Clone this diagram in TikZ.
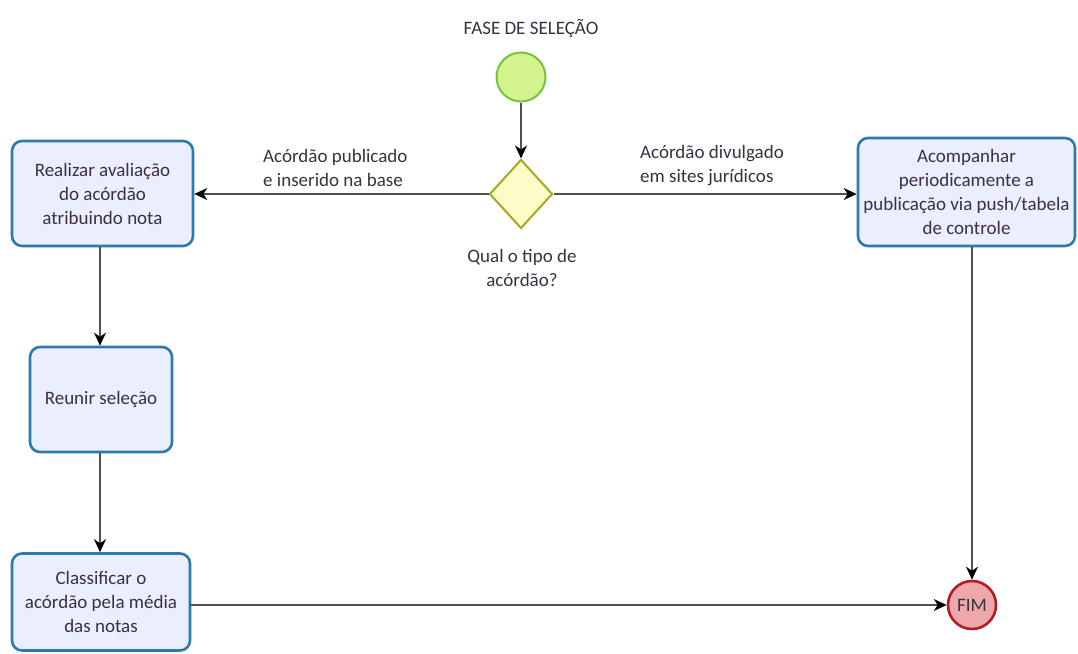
\documentclass[tikz,border=0pt]{standalone}
\usepackage{fontspec}
\setmainfont{Carlito}
\usetikzlibrary{shapes.geometric,arrows.meta}
\definecolor{taskfill}{HTML}{EBEEFC}
\definecolor{taskline}{HTML}{2C7BB0}
\definecolor{startfill}{HTML}{D3F38C}
\definecolor{startline}{HTML}{78C040}
\definecolor{gatefill}{HTML}{FCFCC8}
\definecolor{gateline}{HTML}{A8A820}
\definecolor{endfill}{HTML}{EEA8AC}
\definecolor{endline}{HTML}{B01E22}
\definecolor{flowline}{HTML}{505050}
\definecolor{txt}{HTML}{3A3040}
\begin{document}
\begin{tikzpicture}[x=1pt,y=-1pt,
  every node/.style={font=\fontsize{19}{24}\selectfont, text=txt},
  task/.style={draw=taskline, fill=taskfill, line width=2.6pt, rounded corners=10pt,
    align=center, inner sep=0pt},
  flow/.style={draw=flowline, line width=1.6pt,
    -{Stealth[length=13pt,width=12pt,inset=4pt,color=black]}},
  lbl/.style={align=left, inner sep=0pt}]
\useasboundingbox (0,0) rectangle (1078,653);

% start and end events
\node[circle, draw=startline, fill=startfill, line width=2pt, minimum size=49pt, inner sep=0pt] (start) at (521,77) {};
\node[inner sep=0pt] (title) at (531,29) {FASE DE SELEÇÃO};
\node[circle, draw=endline, fill=endfill, line width=2.6pt, minimum size=48pt, inner sep=0pt] (fim) at (972,605) {FIM};

% gateway
\node[diamond, draw=gateline, fill=gatefill, line width=2pt, minimum width=63pt, minimum height=69pt, inner sep=0pt, aspect=0.9] (gate) at (521,194) {};
\node[align=center, inner sep=0pt] (question) at (522,268) {Qual o tipo de\\acórdão?};

% tasks
\node[task, minimum width=181pt, minimum height=105pt] (avaliar) at (102.5,193.5) {Realizar avaliação\\do acórdão\\atribuindo nota};
\node[task, minimum width=142pt, minimum height=105pt] (reunir) at (101,399.5) {Reunir seleção};
\node[task, minimum width=178pt, minimum height=97pt] (classificar) at (101,602) {Classificar o\\acórdão pela média\\das notas};
\node[task, minimum width=217pt, minimum height=108pt] (acompanhar) at (966.5,192) {Acompanhar\\periodicamente a\\publicação via push/tabela\\de controle};

% flows
\draw[flow] (start) -- (gate);
\draw[flow] (gate.west) -- (avaliar.east |- gate.west);
\draw[flow] (gate.east) -- (acompanhar.west |- gate.east);
\draw[flow] (avaliar.south -| 100,0) -- (reunir.north -| 100,0);
\draw[flow] (reunir.south -| 100,0) -- (classificar.north -| 100,0);
\draw[flow] (classificar.east |- fim) -- (fim.west);
\draw[flow] (acompanhar.south -| fim) -- (fim.north);

% flow labels
\node[lbl, anchor=west] (lblpub) at (263,168) {Acórdão publicado\\e inserido na base};
\node[lbl, anchor=west] (lbldiv) at (640,166) {Acórdão divulgado\\em sites jurídicos};
\end{tikzpicture}
\end{document}
